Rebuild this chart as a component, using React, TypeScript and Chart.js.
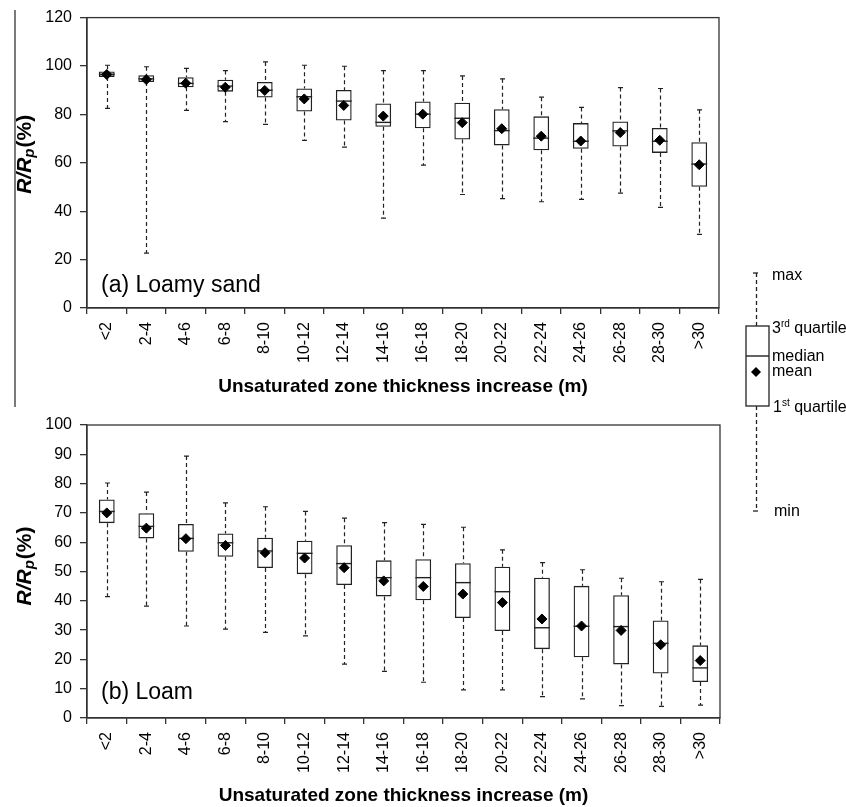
import React, { useEffect, useRef } from "react";
import { Chart, registerables } from "chart.js";

Chart.register(...registerables);

const categories = ["<2", "2-4", "4-6", "6-8", "8-10", "10-12", "12-14", "14-16", "16-18", "18-20", "20-22", "22-24", "24-26", "26-28", "28-30", ">30"];

// Panel (a) Loamy sand
const aMin = [82.5, 22.7, 81.7, 77.0, 75.9, 69.3, 66.5, 37.1, 59.0, 46.9, 45.2, 43.9, 44.9, 47.5, 41.6, 30.4];
const aQ1 = [95.5, 93.4, 91.2, 89.4, 87.0, 81.2, 77.5, 74.9, 74.3, 69.6, 67.2, 65.2, 65.8, 66.7, 64.1, 50.1];
const aMedian = [96.6, 94.7, 92.8, 91.7, 90.0, 87.3, 85.5, 76.7, 80.1, 78.4, 73.3, 70.2, 68.9, 73.2, 68.9, 59.5];
const aMean = [96.5, 94.4, 92.9, 91.2, 89.9, 86.4, 83.7, 79.3, 80.1, 76.6, 74.1, 71.0, 69.0, 72.5, 69.3, 59.2];
const aQ3 = [97.7, 96.2, 95.4, 94.3, 93.4, 90.7, 90.1, 84.5, 85.3, 84.8, 82.1, 79.2, 76.4, 77.1, 74.4, 68.5];
const aMax = [100.3, 99.7, 99.0, 98.1, 101.7, 100.3, 99.9, 98.1, 98.1, 95.9, 94.7, 87.1, 82.9, 91.1, 90.7, 81.9];

// Panel (b) Loam
const bMin = [41.4, 38.2, 31.4, 30.3, 29.2, 28.0, 18.4, 15.9, 12.2, 9.6, 9.6, 7.3, 6.5, 4.2, 4.0, 4.4];
const bQ1 = [66.5, 61.3, 56.7, 55.0, 51.2, 49.1, 45.4, 41.5, 40.2, 34.1, 29.7, 23.5, 20.7, 18.3, 15.2, 12.3];
const bMedian = [70.5, 65.4, 61.3, 59.8, 57.0, 56.2, 52.7, 47.9, 47.9, 46.2, 43.1, 30.8, 31.3, 31.2, 25.5, 17.1];
const bMean = [70.0, 64.8, 61.2, 58.9, 56.4, 54.6, 51.3, 46.8, 44.9, 42.3, 39.4, 33.8, 31.4, 29.9, 25.0, 19.6];
const bQ3 = [74.6, 69.9, 66.2, 63.0, 61.5, 60.5, 59.0, 53.8, 54.2, 52.8, 51.6, 47.9, 45.1, 41.9, 33.3, 24.8];
const bMax = [80.2, 77.1, 89.4, 73.4, 72.1, 70.5, 68.2, 66.7, 66.1, 65.1, 57.4, 53.0, 50.6, 47.7, 46.5, 47.3];

const xTitle = "Unsaturated zone thickness increase (m)";
const FONT = "'Liberation Sans', Arial, Helvetica, sans-serif";
const INK = "#222";

const boxPlugin = {
  id: "boxParts",
  beforeDatasetsDraw(chart: any, _args: any, opts: any) {
    const { ctx } = chart;
    const y = chart.scales.y;
    const meta = chart.getDatasetMeta(1);
    ctx.save();
    ctx.strokeStyle = INK;
    ctx.lineWidth = 1.2;
    meta.data.forEach((el: any, i: number) => {
      const x = Math.round(el.x) + 0.5;
      const pMin = y.getPixelForValue(opts.min[i]);
      const pMax = y.getPixelForValue(opts.max[i]);
      const pQ1 = y.getPixelForValue(opts.q1[i]);
      const pQ3 = y.getPixelForValue(opts.q3[i]);
      ctx.setLineDash([4, 3]);
      ctx.beginPath();
      ctx.moveTo(x, pMax);
      ctx.lineTo(x, pQ3);
      ctx.moveTo(x, pQ1);
      ctx.lineTo(x, pMin);
      ctx.stroke();
      ctx.setLineDash([]);
      ctx.beginPath();
      ctx.moveTo(x - 2.5, pMax);
      ctx.lineTo(x + 2.5, pMax);
      ctx.moveTo(x - 2.5, pMin);
      ctx.lineTo(x + 2.5, pMin);
      ctx.stroke();
    });
    ctx.restore();
  },
  afterDatasetDraw(chart: any, args: any, opts: any) {
    if (args.index !== 1) return;
    const { ctx } = chart;
    const y = chart.scales.y;
    const meta = chart.getDatasetMeta(1);
    ctx.save();
    ctx.strokeStyle = INK;
    ctx.lineWidth = 1.4;
    meta.data.forEach((el: any, i: number) => {
      const p = y.getPixelForValue(opts.median[i]);
      ctx.beginPath();
      ctx.moveTo(el.x - el.width / 2, p);
      ctx.lineTo(el.x + el.width / 2, p);
      ctx.stroke();
    });
    ctx.restore();
  },
  afterDraw(chart: any, _args: any, opts: any) {
    const { ctx, chartArea } = chart;
    ctx.save();
    ctx.strokeStyle = "#333";
    ctx.lineWidth = 1.3;
    ctx.strokeRect(chartArea.left, chartArea.top, chartArea.right - chartArea.left, chartArea.bottom - chartArea.top);
    // panel label
    ctx.fillStyle = "#000";
    ctx.font = `23px ${FONT}`;
    ctx.textBaseline = "middle";
    ctx.textAlign = "left";
    ctx.fillText(opts.label, chartArea.left + 14, chartArea.bottom + opts.labelDy);
    // y title with subscript
    const cy = (chartArea.top + chartArea.bottom) / 2 + opts.titleDy;
    ctx.translate(25, cy);
    ctx.rotate(-Math.PI / 2);
    const bigI = `italic bold 21px ${FONT}`;
    const big = `bold 21px ${FONT}`;
    const small = `italic bold 15px ${FONT}`;
    ctx.font = bigI;
    const w1 = ctx.measureText("R/R").width;
    ctx.font = big;
    const w3 = ctx.measureText("(%)").width;
    ctx.font = small;
    const w2 = ctx.measureText("p").width;
    let x0 = -(w1 + w2 + w3) / 2;
    ctx.textAlign = "left";
    ctx.font = bigI;
    ctx.fillText("R/R", x0, 0);
    x0 += w1;
    ctx.font = small;
    ctx.fillText("p", x0, 5);
    x0 += w2 + 1;
    ctx.font = big;
    ctx.fillText("(%)", x0, 0);
    ctx.restore();
  },
};

type PanelProps = {
  top: number;
  height: number;
  padTop: number;
  padRight: number;
  xHeight: number;
  yMax: number;
  step: number;
  label: string;
  labelDy: number;
  titleDy: number;
  min: number[];
  q1: number[];
  median: number[];
  mean: number[];
  q3: number[];
  max: number[];
};

function Panel(p: PanelProps) {
  const ref = useRef<HTMLCanvasElement>(null);
  useEffect(() => {
    if (!ref.current) return;
    const chart = new Chart(ref.current, {
      type: "bar",
      data: {
        labels: categories,
        datasets: [
          {
            type: "line",
            data: p.mean,
            showLine: false,
            pointStyle: "rectRot",
            pointRadius: 5,
            pointBackgroundColor: "#000",
            pointBorderColor: "#000",
            borderColor: "#000",
            backgroundColor: "#000",
            order: 1,
          } as any,
          {
            type: "bar",
            data: p.q1.map((v, i) => [v, p.q3[i]]),
            backgroundColor: "rgba(255,255,255,0)",
            borderColor: INK,
            borderWidth: 1.3,
            borderSkipped: false,
            barPercentage: 0.4,
            categoryPercentage: 1,
            order: 2,
          } as any,
        ],
      },
      options: {
        animation: false,
        responsive: false,
        maintainAspectRatio: false,
        events: [],
        layout: { padding: { top: p.padTop, right: p.padRight, bottom: 0, left: 0 } },
        plugins: {
          legend: { display: false },
          tooltip: { enabled: false },
          boxParts: { min: p.min, max: p.max, median: p.median, q1: p.q1, q3: p.q3, label: p.label, labelDy: p.labelDy, titleDy: p.titleDy },
        } as any,
        scales: {
          x: {
            grid: { display: true, drawOnChartArea: false, tickLength: 6, color: "#333", lineWidth: 1.3, offset: true },
            border: { color: "#333", width: 1.3 },
            ticks: { color: "#000", font: { family: FONT, size: 16 }, maxRotation: 90, minRotation: 90, autoSkip: false, padding: 8 },
            title: { display: true, text: xTitle, color: "#000", font: { family: FONT, size: 19, weight: "bold" }, padding: { top: 0, bottom: 0 } },
            afterFit: (s: any) => {
              s.height = p.xHeight;
            },
          },
          y: {
            min: 0,
            max: p.yMax,
            grid: { display: true, drawOnChartArea: false, tickLength: 7, color: "#333", lineWidth: 1.3 },
            border: { color: "#333", width: 1.3 },
            ticks: { stepSize: p.step, color: "#000", font: { family: FONT, size: 16 }, padding: 8 },
            afterFit: (s: any) => {
              s.width = 87;
            },
          },
        } as any,
      },
      plugins: [boxPlugin as any],
    });
    return () => chart.destroy();
  }, []);
  return (
    <canvas
      ref={ref}
      width={740}
      height={p.height}
      style={{ position: "absolute", left: 0, top: p.top, width: 740, height: p.height }}
    />
  );
}

function LegendKey() {
  const t = { fontFamily: FONT, fontSize: 16, fill: "#000" } as any;
  return (
    <svg width={846} height={807} style={{ position: "absolute", left: 0, top: 0, pointerEvents: "none" }}>
      <g stroke={INK} strokeWidth={1.3} fill="none">
        <line x1={756.5} y1={273} x2={756.5} y2={326} strokeDasharray="4 3" />
        <line x1={756.5} y1={406} x2={756.5} y2={511} strokeDasharray="4 3" />
        <line x1={753} y1={273} x2={758} y2={273} />
        <line x1={753} y1={511} x2={758} y2={511} />
        <rect x={746} y={326} width={23} height={80} />
        <line x1={746} y1={356} x2={769} y2={356} strokeWidth={1.4} />
      </g>
      <polygon points="756,367 761,372 756,377 751,372" fill="#000" />
      <text x={772} y={280} {...t}>max</text>
      <text x={772} y={333} {...t}>
        3<tspan fontSize={10} dy={-6}>rd</tspan>
        <tspan dy={6}> quartile</tspan>
      </text>
      <text x={772} y={361} {...t}>median</text>
      <text x={772} y={376} {...t}>mean</text>
      <text x={773} y={412} {...t}>
        1<tspan fontSize={10} dy={-6}>st</tspan>
        <tspan dy={6}> quartile</tspan>
      </text>
      <text x={774} y={516} {...t}>min</text>
    </svg>
  );
}

export default function App() {
  return (
    <div style={{ position: "absolute", left: 0, top: 0, width: 846, height: 807, background: "#fff", overflow: "hidden" }}>
      <div style={{ position: "absolute", left: 14, top: 10, width: 2, height: 397, background: "#7a7a7a" }} />
      <Panel
        top={0}
        height={398}
        padTop={16}
        padRight={21}
        xHeight={90}
        yMax={120}
        step={20}
        label="(a) Loamy sand"
        labelDy={-22}
        titleDy={-8}
        min={aMin}
        q1={aQ1}
        median={aMedian}
        mean={aMean}
        q3={aQ3}
        max={aMax}
      />
      <Panel
        top={400}
        height={407}
        padTop={25}
        padRight={20}
        xHeight={89}
        yMax={100}
        step={10}
        label="(b) Loam"
        labelDy={-25}
        titleDy={-5}
        min={bMin}
        q1={bQ1}
        median={bMedian}
        mean={bMean}
        q3={bQ3}
        max={bMax}
      />
      <LegendKey />
    </div>
  );
}
